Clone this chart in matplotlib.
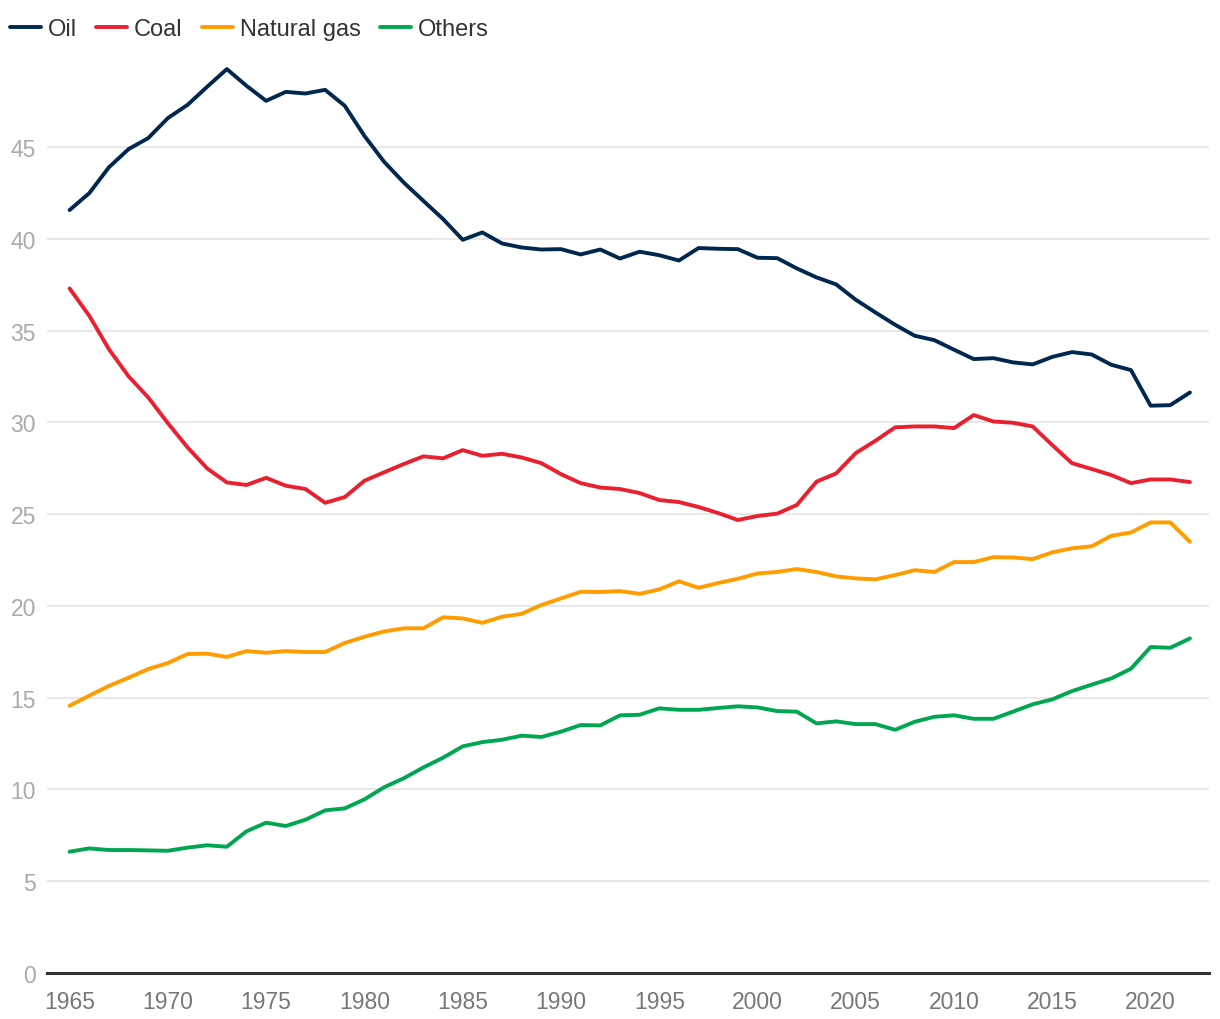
import numpy as np
import matplotlib
matplotlib.use('Agg')
import matplotlib.pyplot as plt

plt.rcParams['font.family'] = ['Liberation Sans', 'DejaVu Sans']

years = list(range(1965, 2023))

oil = [41.57, 42.49, 43.90, 44.89, 45.49, 46.58, 47.30, 48.29, 49.25, 48.34,
       47.52, 48.01, 47.92, 48.12, 47.25, 45.61, 44.20, 43.07, 42.07, 41.08,
       39.95, 40.35, 39.75, 39.53, 39.42, 39.44, 39.15, 39.42, 38.93, 39.30,
       39.11, 38.82, 39.50, 39.46, 39.44, 38.97, 38.95, 38.39, 37.90, 37.52,
       36.68, 35.99, 35.32, 34.72, 34.48, 33.96, 33.45, 33.50, 33.27, 33.16,
       33.57, 33.83, 33.70, 33.14, 32.85, 30.91, 30.94, 31.63]

coal = [37.30, 35.81, 33.99, 32.51, 31.36, 29.96, 28.64, 27.49, 26.73, 26.59,
        26.98, 26.55, 26.37, 25.62, 25.93, 26.82, 27.28, 27.73, 28.15, 28.04,
        28.49, 28.18, 28.29, 28.09, 27.78, 27.18, 26.69, 26.45, 26.37, 26.15,
        25.77, 25.66, 25.39, 25.06, 24.68, 24.90, 25.03, 25.50, 26.77, 27.22,
        28.33, 29.00, 29.73, 29.78, 29.78, 29.69, 30.40, 30.05, 29.98, 29.78,
        28.76, 27.78, 27.46, 27.13, 26.69, 26.89, 26.89, 26.75]

natural_gas = [14.56, 15.11, 15.64, 16.09, 16.56, 16.89, 17.38, 17.40, 17.22, 17.54,
               17.45, 17.54, 17.49, 17.49, 17.98, 18.32, 18.61, 18.78, 18.78, 19.38,
               19.32, 19.08, 19.41, 19.57, 20.05, 20.41, 20.77, 20.76, 20.81, 20.66,
               20.90, 21.34, 20.99, 21.25, 21.48, 21.77, 21.85, 22.01, 21.85, 21.61,
               21.50, 21.45, 21.68, 21.95, 21.85, 22.39, 22.39, 22.66, 22.64, 22.55,
               22.92, 23.14, 23.25, 23.82, 24.00, 24.55, 24.55, 23.50]

others = [6.61, 6.79, 6.70, 6.70, 6.68, 6.66, 6.83, 6.96, 6.88, 7.72,
          8.19, 8.01, 8.35, 8.86, 8.97, 9.46, 10.12, 10.61, 11.20, 11.73,
          12.35, 12.58, 12.71, 12.93, 12.86, 13.15, 13.51, 13.49, 14.04, 14.07,
          14.42, 14.34, 14.34, 14.44, 14.53, 14.47, 14.27, 14.24, 13.60, 13.71,
          13.56, 13.56, 13.25, 13.69, 13.96, 14.04, 13.85, 13.85, 14.24, 14.64,
          14.91, 15.36, 15.71, 16.05, 16.58, 17.76, 17.72, 18.23]

labels = ['Oil', 'Coal', 'Natural gas', 'Others']
colors = ['#00284f', '#e8202f', '#ff9c00', '#00a651']
xticks = list(range(1965, 2021, 5))
yticks = list(range(0, 50, 5))

fig = plt.figure(figsize=(12.2, 10.2), dpi=100)
ax = fig.add_axes([47 / 1220, 46 / 1020, (1209 - 47) / 1220, (974 - 60) / 1020])

for series, label, color in zip([oil, coal, natural_gas, others], labels, colors):
    ax.plot(years, series, color=color, lw=2.8, label=label, solid_capstyle='round',
            solid_joinstyle='round')

ax.set_xlim(1963.85, 2022.97)
ax.set_ylim(0, 49.8)
ax.set_xticks(xticks)
ax.set_yticks(yticks)
ax.grid(axis='y', color='#e6e6e6', lw=1.3)
ax.set_axisbelow(True)
for s in ['top', 'right', 'left']:
    ax.spines[s].set_visible(False)
ax.spines['bottom'].set_color('#333333')
ax.spines['bottom'].set_linewidth(2.2)
ax.tick_params(axis='both', length=0, labelsize=16.5)
ax.tick_params(axis='y', labelcolor='#aaaaaa', pad=8)
ax.tick_params(axis='x', labelcolor='#777777', pad=12)

fig.legend(loc='upper left', bbox_to_anchor=(10 / 1220, 1 - 19 / 1020), ncol=4,
           frameon=False, fontsize=17, handlelength=1.3, handletextpad=0.3,
           columnspacing=0.82, labelcolor='#333333', borderaxespad=0, borderpad=0)

fig.savefig('out.png', dpi=100)
